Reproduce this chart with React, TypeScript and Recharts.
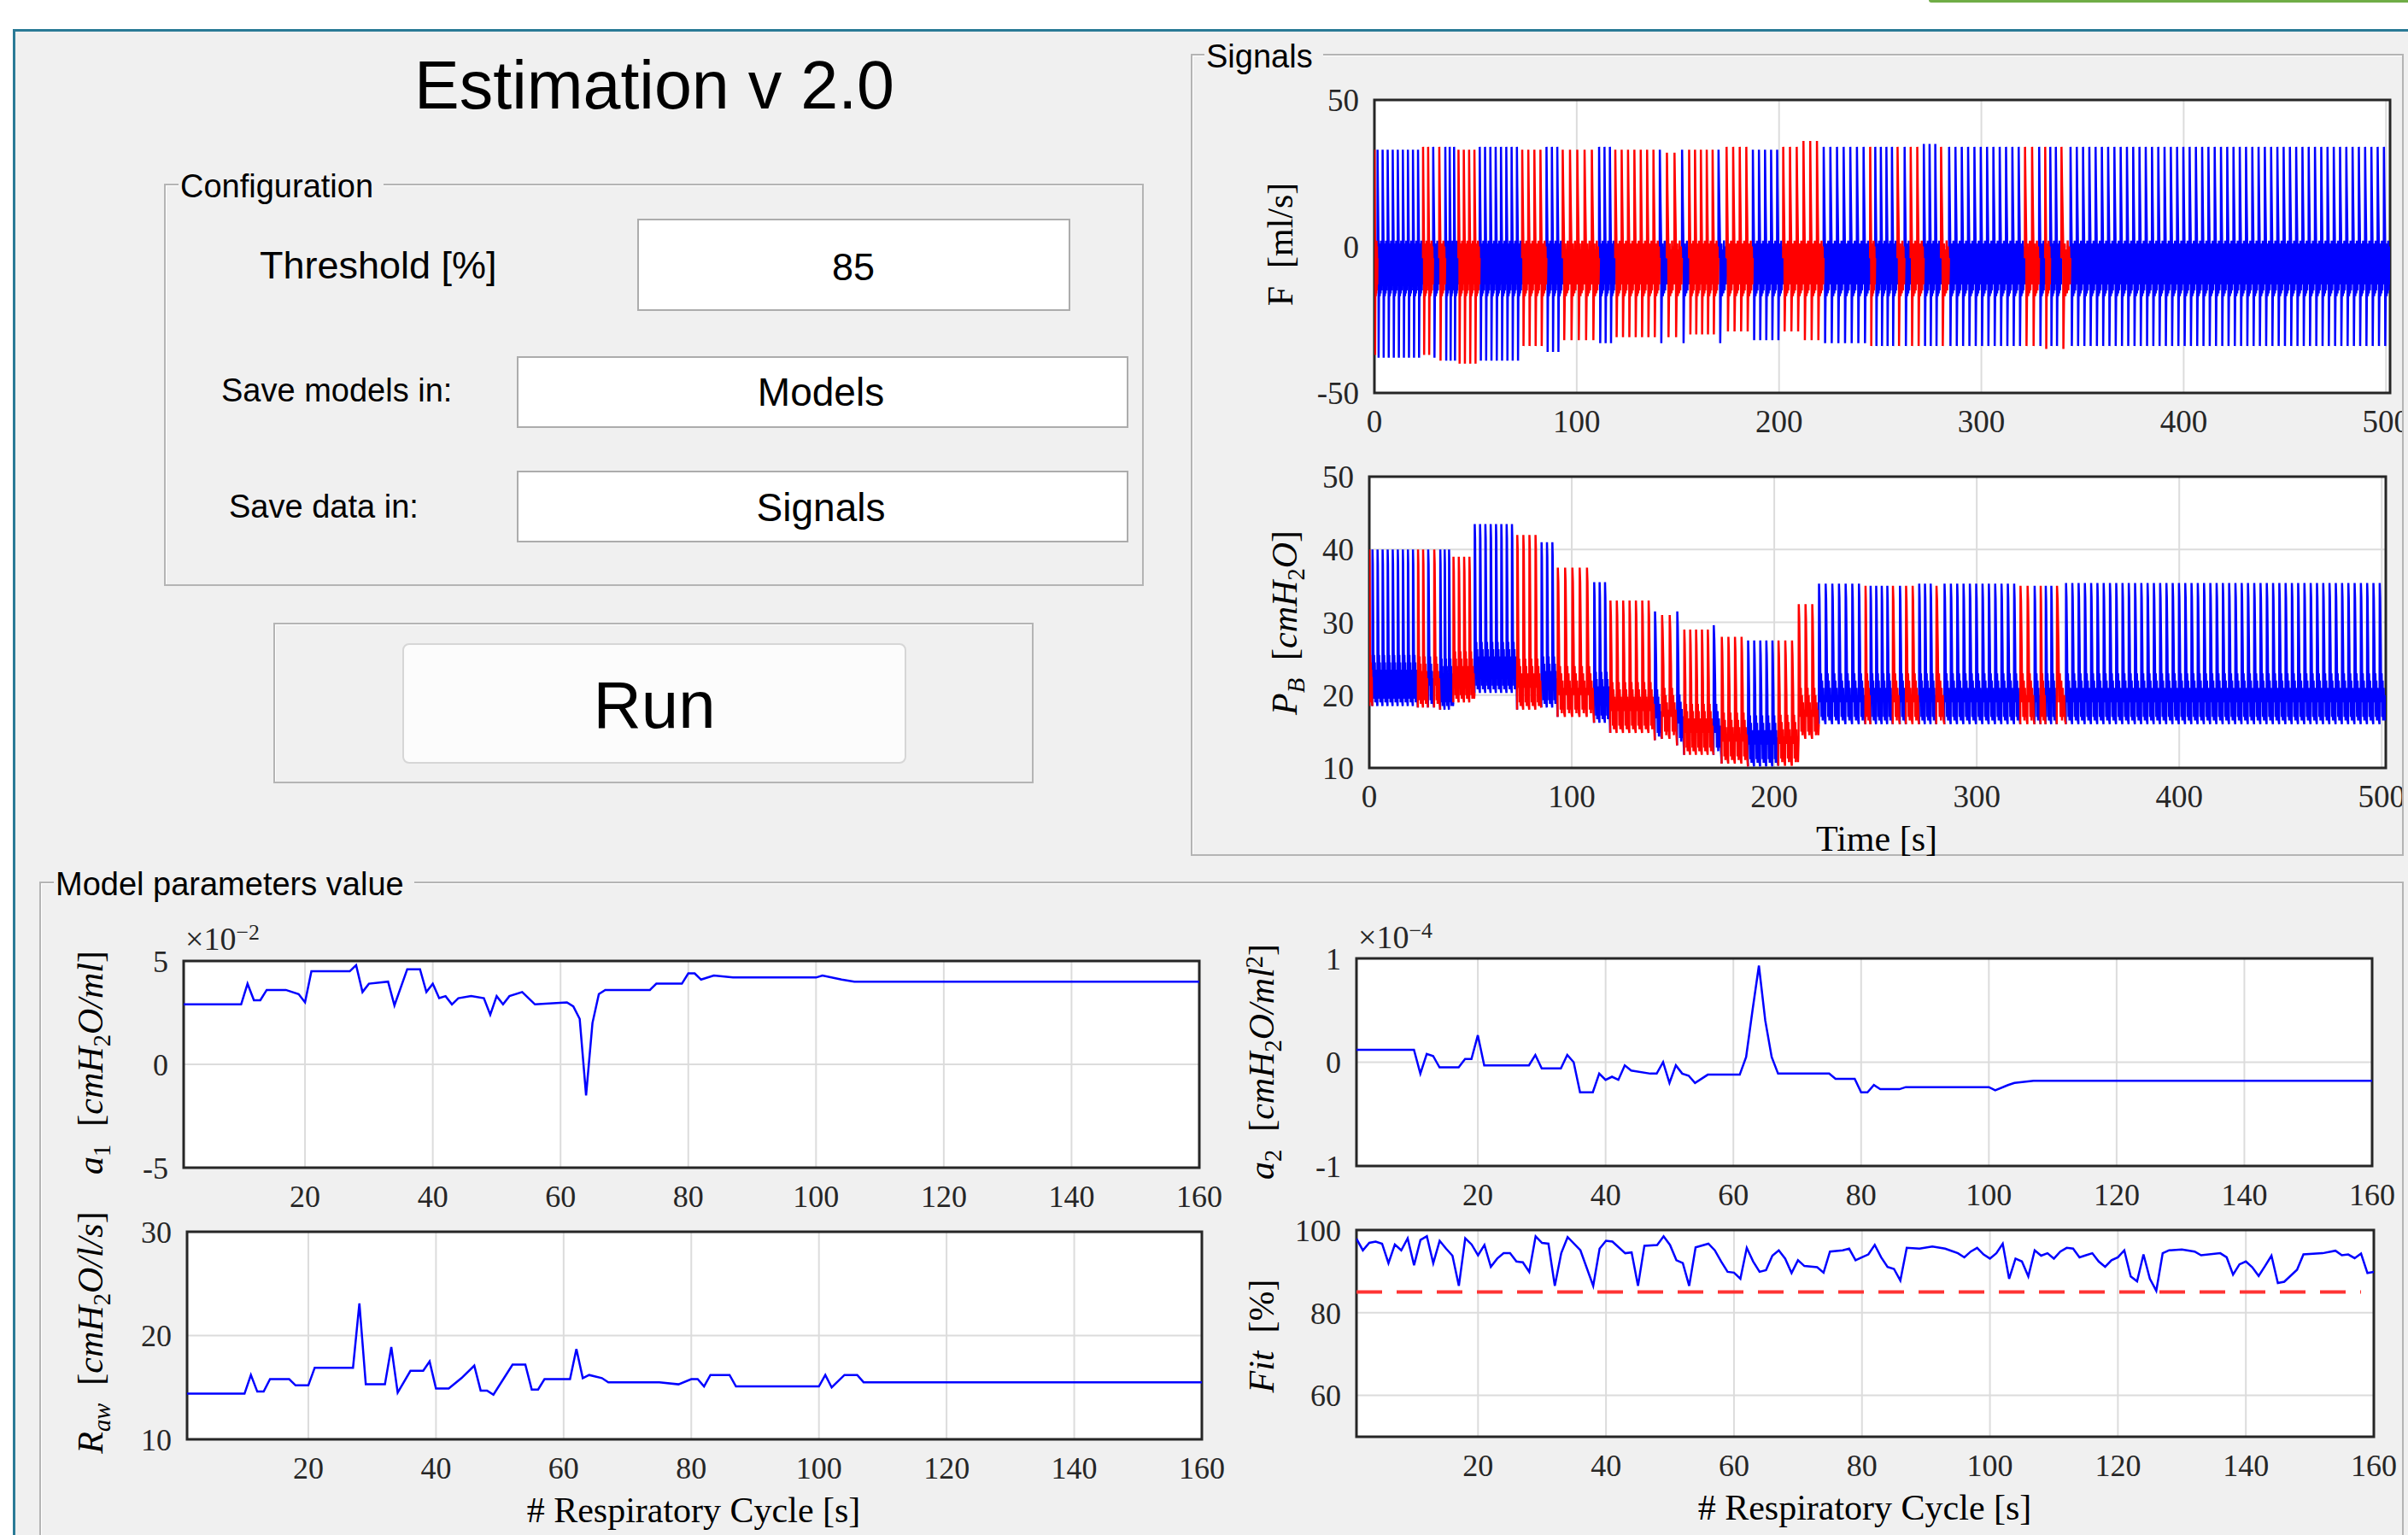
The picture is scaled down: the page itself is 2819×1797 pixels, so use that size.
import React from 'react';
import { CartesianGrid, Line, LineChart, ReferenceArea, ReferenceLine, XAxis, YAxis } from 'recharts';

const SANS = '"Liberation Sans", Arial, sans-serif';
const SERIF = '"Liberation Serif", "Times New Roman", serif';
const INK = '#262626';
const PANEL = '#f0f0f0';
const BLUE = '#0000ff';
const RED = '#ff0000';

// GUI values
const THRESHOLD = 85;
const MODELS_DIR = 'Models';
const SIGNALS_DIR = 'Signals';

const segBounds = [0, 1.5, 24, 29, 32, 35, 41.5, 52, 73, 85, 93, 111, 119, 141, 144.5, 152, 155.5, 170, 174, 187, 202, 212, 222, 245, 247.5, 258.5, 262, 265, 271.5, 280, 284, 321.5, 328.5, 331.5, 334, 339.5, 344, 502];
const segRed = [1, 0, 1, 0, 1, 0, 1, 0, 1, 0, 1, 0, 1, 0, 1, 0, 1, 0, 1, 0, 1, 1, 0, 1, 0, 1, 0, 1, 0, 1, 0, 1, 0, 1, 0, 1, 0];
const segBreaths = [1, 9, 2, 1, 1, 3, 4, 8, 4, 3, 5, 3, 7, 1, 2, 1, 5, 1, 4, 5, 3, 3, 7, 1, 4, 1, 1, 2, 3, 1, 12, 2, 1, 1, 2, 1, 51];
// flow F [ml/s]
const flowPeak = [33, 33, 34, 34, 34, 34, 33, 34, 33, 34, 33, 34, 33, 33, 32, 33, 33, 33, 34, 33, 34, 36, 34, 34, 34, 34, 34, 34, 35, 34, 34, 34, 34, 34, 34, 34, 34];
const flowTrough = [-37, -38, -37, -38, -39, -39, -40, -39, -34, -36, -32, -33, -31, -33, -31, -33, -30, -33, -29, -32, -29, -32, -33, -34, -34, -34, -34, -34, -34, -34, -34, -34, -34, -35, -34, -35, -34];
// pressure P_B [cmH2O]
const presPeak = [40, 40, 40, 40, 40, 40, 39, 43.5, 42, 41, 37.5, 35.5, 33, 31.5, 31, 31.5, 29, 29.6, 28, 27.5, 27.5, 32.5, 35.3, 35, 35, 35, 35, 35, 35.3, 35, 35.3, 35, 35, 35, 35, 35, 35.4];
const presBase = [18.5, 18.5, 18.3, 18.3, 18.3, 18, 19, 20.3, 18, 18.3, 17, 16.2, 14.8, 13.8, 14, 13.1, 11.8, 11.8, 10.6, 10.2, 10.3, 14, 16, 16, 16, 16, 16, 16, 16, 16, 16, 16, 16, 16, 16, 16, 16];

// Model parameters (per respiratory cycle)
const a1Cycles = [1, 10, 11, 12, 13, 14, 17, 19, 20, 21, 27, 28, 29, 30, 33, 34, 36, 38, 39, 40, 41, 42, 43, 44, 46, 48, 49, 50, 51, 52, 54, 55, 56, 61, 62, 63, 64, 65, 66, 67, 74, 75, 79, 80, 81, 82, 84, 87, 100, 101, 104, 106, 160];
const a1Values = [2.9, 2.9, 3.9, 3.1, 3.1, 3.6, 3.6, 3.4, 3.0, 4.5, 4.5, 4.8, 3.5, 3.9, 4.0, 2.85, 4.6, 4.6, 3.5, 3.9, 3.2, 3.3, 2.9, 3.2, 3.3, 3.2, 2.4, 3.3, 2.9, 3.3, 3.5, 3.2, 2.9, 3.0, 2.8, 2.2, -1.5, 2.0, 3.4, 3.6, 3.6, 3.9, 3.9, 4.4, 4.4, 4.1, 4.3, 4.2, 4.2, 4.3, 4.1, 4.0, 4.0]; // x1e-2

const a2Cycles = [1, 10, 11, 12, 13, 14, 17, 18, 19, 20, 21, 28, 29, 30, 33, 34, 35, 36, 38, 39, 40, 41, 42, 43, 44, 47, 48, 49, 50, 51, 52, 53, 54, 56, 61, 62, 63, 64, 65, 66, 67, 75, 76, 79, 80, 81, 82, 83, 86, 87, 100, 101, 103, 104, 107, 160];
const a2Values = [0.12, 0.12, -0.11, 0.08, 0.06, -0.05, -0.05, 0.03, 0.03, 0.26, -0.03, -0.03, 0.07, -0.06, -0.06, 0.07, 0, -0.29, -0.29, -0.11, -0.17, -0.14, -0.17, -0.03, -0.08, -0.11, -0.11, 0, -0.2, -0.03, -0.11, -0.13, -0.2, -0.12, -0.12, 0.05, 0.5, 0.93, 0.4, 0.05, -0.11, -0.11, -0.16, -0.16, -0.29, -0.29, -0.22, -0.26, -0.26, -0.24, -0.24, -0.27, -0.22, -0.2, -0.18, -0.18]; // x1e-4

const rawCycles = [1, 10, 11, 12, 13, 14, 17, 18, 20, 21, 27, 28, 29, 32, 33, 34, 36, 38, 39, 40, 42, 44, 46, 47, 48, 49, 52, 54, 55, 56, 57, 61, 62, 63, 64, 66, 67, 75, 78, 80, 81, 82, 83, 86, 87, 100, 101, 102, 104, 106, 107, 160];
const rawValues = [14.4, 14.4, 16.2, 14.6, 14.6, 15.8, 15.8, 15.2, 15.2, 16.9, 16.9, 23.1, 15.3, 15.3, 18.9, 14.5, 16.6, 16.6, 17.5, 14.9, 14.9, 15.9, 17.1, 14.7, 14.7, 14.3, 17.2, 17.2, 14.8, 14.8, 15.8, 15.8, 18.7, 15.9, 16.2, 15.9, 15.5, 15.5, 15.3, 15.8, 15.8, 15.1, 16.2, 16.2, 15.1, 15.1, 16.2, 15.0, 16.2, 16.2, 15.5, 15.5];

const fitCycles = [1, 2, 3, 4, 5, 6, 7, 8, 9, 10, 11, 12, 13, 14, 15, 16, 17, 18, 19, 20, 21, 22, 23, 24, 25, 26, 27, 28, 29, 30, 31, 32, 33, 34, 36, 38, 39, 40, 41, 43, 44, 45, 46, 48, 49, 50, 51, 52, 53, 54, 56, 57, 58, 59, 60, 61, 62, 63, 64, 65, 66, 67, 68, 69, 70, 71, 73, 74, 75, 77, 78, 79, 80, 81, 82, 83, 84, 85, 86, 87, 89, 91, 93, 95, 96, 97, 98, 99, 100, 101, 102, 103, 104, 105, 106, 107, 108, 109, 110, 111, 112, 113, 114, 115, 116, 117, 118, 119, 120, 121, 122, 123, 124, 125, 126, 127, 128, 130, 132, 133, 136, 137, 138, 139, 140, 141, 142, 143, 144, 145, 146, 148, 149, 152, 154, 155, 156, 157, 158, 159, 160];
const fitValues = [97.9, 95.1, 96.9, 97.2, 96.7, 92, 96.5, 95.1, 98, 91.5, 97.6, 98.5, 92, 97.4, 95.5, 93.8, 86.5, 98, 96.5, 93.9, 96.4, 91.1, 93.1, 94.4, 94.4, 92.4, 92.2, 89.9, 98.5, 96.9, 96.7, 86.5, 94.4, 98.3, 95.1, 86.5, 95.5, 97.4, 97.2, 94.4, 94.6, 86.5, 96.2, 96.4, 98.5, 96.4, 92.7, 92, 86.5, 95.8, 96.7, 95.1, 92.4, 89.9, 89.7, 88.2, 95.7, 92.4, 89.9, 90.3, 93.8, 95.1, 93.1, 89.6, 92.7, 91.3, 91, 89.7, 94.8, 95.1, 95.5, 92.7, 93.4, 94.1, 96.4, 93.4, 91.1, 90.6, 87.8, 95.7, 95.5, 96, 95.5, 94.4, 93.4, 94.8, 95.7, 94.1, 93.1, 94.4, 96.7, 88.2, 93.1, 92.4, 88.8, 95.1, 93.8, 94.4, 93.1, 94.8, 95.7, 95.5, 93.4, 93.9, 94.4, 92.4, 91.1, 92.7, 93.4, 95.1, 88.8, 87.6, 94.1, 88.2, 85.3, 94.4, 95.1, 95.3, 94.8, 93.9, 94.4, 93.4, 89.2, 91.7, 92.4, 91, 88.9, 91.3, 93.8, 87.2, 87.5, 90.4, 94.1, 94.4, 95, 93.9, 94.1, 93.2, 94.3, 89.6, 89.9];

const timeTicks = [0, 100, 200, 300, 400, 500];
const cycleTicks = [20, 40, 60, 80, 100, 120, 140, 160];

type Row = Record<string, number | null>;
type Pt = [number, number];

// one breath: [phase within breath, value]
const flowShape = (peak: number, trough: number): Pt[] => [
  [0, -4], [0.02, peak], [0.09, peak * 0.6], [0.2, 2], [0.23, trough], [0.3, -18],
  [0.38, 1], [0.46, -17], [0.54, -1], [0.62, -16], [0.7, 2], [0.78, -15], [0.86, 0], [0.94, -13],
];
const presShape = (peak: number, base: number): Pt[] => [
  [0, base], [0.03, peak], [0.1, peak - 2], [0.2, base + 10], [0.26, base + 3], [0.34, base + 7],
  [0.42, base + 1], [0.5, base + 6], [0.58, base + 0.5], [0.66, base + 5], [0.74, base + 1], [0.82, base + 4], [0.92, base + 0.5],
];

function buildTrace(shape: (a: number, b: number) => Pt[], hi: number[], lo: number[]): Row[] {
  const rows: Row[] = [];
  for (let s = 0; s < segRed.length; s++) {
    const t0 = segBounds[s];
    const period = (segBounds[s + 1] - t0) / segBreaths[s];
    const key = segRed[s] ? 'red' : 'blue';
    const other = segRed[s] ? 'blue' : 'red';
    for (let b = 0; b < segBreaths[s]; b++) {
      shape(hi[s], lo[s]).forEach(([phase, v], i) => {
        const row: Row = { t: t0 + (b + phase) * period, blue: null, red: null };
        row[key] = v;
        if (s > 0 && b === 0 && i === 0 && segRed[s - 1] !== segRed[s]) row[other] = v;
        rows.push(row);
      });
    }
  }
  return rows;
}

const zip = (xs: number[], ys: number[]): Row[] => xs.map((c, i) => ({ c, v: ys[i] }));

const flowRows = buildTrace(flowShape, flowPeak, flowTrough);
const presRows = buildTrace(presShape, presPeak, presBase);
const a1Rows = zip(a1Cycles, a1Values);
const a2Rows = zip(a2Cycles, a2Values);
const rawRows = zip(rawCycles, rawValues);
const fitRows = zip(fitCycles, fitValues);

const PAD_L = 100;
const PAD_R = 40;
const PAD_T = 30;
const PAD_B = 60;

interface PlotProps {
  x: number;
  y: number;
  w: number;
  h: number;
  ox?: number;
  oy?: number;
  data: Row[];
  xKey: string;
  xDomain: [number, number];
  xTicks: number[];
  yDomain: [number, number];
  yTicks: number[];
  fontSize: number;
  series: { key: string; color: string; width: number }[];
  children?: React.ReactNode;
}

function Plot({ x, y, w, h, ox = 0, oy = 0, data, xKey, xDomain, xTicks, yDomain, yTicks, fontSize, series, children }: PlotProps) {
  const tick = { fontFamily: SERIF, fontSize, fill: INK };
  return (
    <div style={{ position: 'absolute', left: x - PAD_L - ox, top: y - PAD_T - oy }}>
      <LineChart
        width={w + PAD_L + PAD_R}
        height={h + PAD_T + PAD_B}
        data={data}
        margin={{ top: PAD_T, right: PAD_R, bottom: 0, left: 0 }}
      >
        <CartesianGrid stroke="#dcdcdc" strokeWidth={2} fill="#ffffff" />
        <XAxis
          dataKey={xKey}
          type="number"
          domain={xDomain}
          ticks={xTicks}
          interval={0}
          allowDataOverflow
          height={PAD_B}
          axisLine={false}
          tickLine={false}
          tickSize={0}
          tickMargin={20}
          tick={tick}
        />
        <YAxis
          type="number"
          domain={yDomain}
          ticks={yTicks}
          interval={0}
          allowDataOverflow
          width={PAD_L}
          axisLine={false}
          tickLine={false}
          tickSize={0}
          tickMargin={18}
          tick={tick}
        />
        {series.map((s) => (
          <Line
            key={s.key}
            dataKey={s.key}
            type="linear"
            stroke={s.color}
            strokeWidth={s.width}
            dot={false}
            activeDot={false}
            connectNulls={false}
            isAnimationActive={false}
          />
        ))}
        {children}
        <ReferenceArea
          x1={xDomain[0]}
          x2={xDomain[1]}
          y1={yDomain[0]}
          y2={yDomain[1]}
          fill="none"
          stroke={INK}
          strokeWidth={3}
          ifOverflow="visible"
        />
      </LineChart>
    </div>
  );
}

interface TxtProps {
  x: number;
  y: number;
  size: number;
  anchor?: 'start' | 'middle' | 'end';
  family?: string;
  rotate?: boolean;
  style?: React.CSSProperties;
  children: React.ReactNode;
}

function Txt({ x, y, size, anchor = 'start', family = SANS, rotate = false, style, children }: TxtProps) {
  const tx = rotate || anchor === 'middle' ? '-50%' : anchor === 'end' ? '-100%' : '0';
  return (
    <div
      style={{
        position: 'absolute',
        left: x,
        top: y,
        transform: `translate(${tx}, -50%)${rotate ? ' rotate(-90deg)' : ''}`,
        fontSize: size,
        lineHeight: 1,
        fontFamily: family,
        whiteSpace: 'nowrap',
        color: '#000',
        ...style,
      }}
    >
      {children}
    </div>
  );
}

const Sub = ({ children }: { children: React.ReactNode }) => (
  <span style={{ fontSize: '0.68em', position: 'relative', top: '0.3em' }}>{children}</span>
);
const Sup = ({ children }: { children: React.ReactNode }) => (
  <span style={{ fontSize: '0.68em', position: 'relative', top: '-0.45em' }}>{children}</span>
);

function Box({ left, top, width, height, style, children }: { left: number; top: number; width: number; height: number; style?: React.CSSProperties; children?: React.ReactNode }) {
  return (
    <div style={{ position: 'absolute', left, top, width, height, boxSizing: 'border-box', ...style }}>{children}</div>
  );
}

function Group({ left, top, width, height, title, titleLeft }: { left: number; top: number; width: number; height: number; title?: string; titleLeft?: number }) {
  return (
    <>
      <Box left={left} top={top} width={width} height={height} style={{ border: '2px solid #b4b4b4', boxShadow: 'inset 1px 1px 0 #ffffff' }} />
      {title && (
        <Txt x={titleLeft ?? left + 18} y={top + 3} size={38} style={{ background: PANEL, padding: '0 12px 0 2px' }}>
          {title}
        </Txt>
      )}
    </>
  );
}

const inputBox: React.CSSProperties = { background: '#ffffff', border: '2px solid #acacac' };
const mathTxt = { family: SERIF, size: 42 } as const;

export default function App() {
  return (
    <div style={{ position: 'absolute', left: 0, top: 0, width: 2819, height: 1797, overflow: 'hidden', background: '#ffffff', fontFamily: SANS }}>
      <Box left={2258} top={0} width={561} height={3} style={{ background: '#70ad47', borderBottomLeftRadius: 3 }} />
      <Box left={15} top={34} width={2804} height={1763} style={{ background: PANEL, borderTop: '3px solid #2a7a96', borderLeft: '3px solid #2a7a96' }} />

      {/* left control area */}
      <Txt x={766} y={99} size={79} anchor="middle">Estimation v 2.0</Txt>
      <Group left={192} top={215} width={1147} height={471} title="Configuration" titleLeft={209} />
      <Txt x={304} y={310} size={45}>Threshold [%]</Txt>
      <Box left={746} top={256} width={507} height={108} style={inputBox} />
      <Txt x={999} y={312} size={45} anchor="middle">{THRESHOLD}</Txt>
      <Txt x={259} y={457} size={38}>Save models in:</Txt>
      <Box left={605} top={417} width={716} height={84} style={inputBox} />
      <Txt x={961} y={459} size={46} anchor="middle">{MODELS_DIR}</Txt>
      <Txt x={268} y={593} size={38}>Save data in:</Txt>
      <Box left={605} top={551} width={716} height={84} style={inputBox} />
      <Txt x={961} y={594} size={46} anchor="middle">{SIGNALS_DIR}</Txt>
      <Group left={320} top={729} width={890} height={188} />
      <Box left={471} top={753} width={590} height={141} style={{ background: '#fcfcfc', border: '2px solid #d6d6d6', borderRadius: 8 }} />
      <Txt x={766} y={825} size={78} anchor="middle">Run</Txt>

      {/* Signals */}
      <Group left={1394} top={63} width={1420} height={939} title="Signals" titleLeft={1410} />
      <div style={{ position: 'absolute', left: 1396, top: 70, width: 1416, height: 930, overflow: 'hidden' }}>
        <Plot
          x={1609} y={117} w={1189} h={343} ox={1396} oy={70}
          data={flowRows} xKey="t" xDomain={[0, 502]} xTicks={timeTicks}
          yDomain={[-50, 50]} yTicks={[-50, 0, 50]} fontSize={37}
          series={[{ key: 'blue', color: BLUE, width: 2.5 }, { key: 'red', color: RED, width: 2.5 }]}
        />
        <Plot
          x={1603} y={558} w={1190} h={341} ox={1396} oy={70}
          data={presRows} xKey="t" xDomain={[0, 502]} xTicks={timeTicks}
          yDomain={[10, 50]} yTicks={[10, 20, 30, 40, 50]} fontSize={37}
          series={[{ key: 'blue', color: BLUE, width: 2.5 }, { key: 'red', color: RED, width: 2.5 }]}
        />
      </div>
      <Txt x={1499} y={286} rotate {...mathTxt}>F&nbsp;&nbsp;[ml/s]</Txt>
      <Txt x={1504} y={729} rotate {...mathTxt}>
        <i>P</i><Sub><i>B</i></Sub>&nbsp;&nbsp;[<i>cmH</i><Sub>2</Sub><i>O</i>]
      </Txt>
      <Txt x={2197} y={982} anchor="middle" {...mathTxt}>Time&nbsp;[s]</Txt>

      {/* Model parameters value */}
      <Group left={46} top={1032} width={2768} height={800} title="Model parameters value" titleLeft={63} />
      <Plot
        x={215} y={1125} w={1189} h={242}
        data={a1Rows} xKey="c" xDomain={[1, 160]} xTicks={cycleTicks}
        yDomain={[-5, 5]} yTicks={[-5, 0, 5]} fontSize={36}
        series={[{ key: 'v', color: BLUE, width: 2.5 }]}
      />
      <Plot
        x={219} y={1442} w={1188} h={243}
        data={rawRows} xKey="c" xDomain={[1, 160]} xTicks={cycleTicks}
        yDomain={[10, 30]} yTicks={[10, 20, 30]} fontSize={36}
        series={[{ key: 'v', color: BLUE, width: 2.5 }]}
      />
      <Plot
        x={1588} y={1122} w={1189} h={243}
        data={a2Rows} xKey="c" xDomain={[1, 160]} xTicks={cycleTicks}
        yDomain={[-1, 1]} yTicks={[-1, 0, 1]} fontSize={36}
        series={[{ key: 'v', color: BLUE, width: 2.5 }]}
      />
      <Plot
        x={1588} y={1440} w={1191} h={242}
        data={fitRows} xKey="c" xDomain={[1, 160]} xTicks={cycleTicks}
        yDomain={[50, 100]} yTicks={[60, 80, 100]} fontSize={36}
        series={[{ key: 'v', color: BLUE, width: 2.5 }]}
      >
        <ReferenceLine
          segment={[{ x: 1, y: THRESHOLD }, { x: 158, y: THRESHOLD }]}
          stroke="#ff3333"
          strokeWidth={4}
          strokeDasharray="30 17"
        />
      </Plot>

      <Txt x={217} y={1099} size={38} family={SERIF} style={{ color: INK }}>×10<Sup>−2</Sup></Txt>
      <Txt x={1590} y={1097} size={38} family={SERIF} style={{ color: INK }}>×10<Sup>−4</Sup></Txt>

      <Txt x={106} y={1244} rotate {...mathTxt}>
        <i>a</i><Sub>1</Sub>&nbsp;&nbsp;[<i>cmH</i><Sub>2</Sub><i>O/ml</i>]
      </Txt>
      <Txt x={106} y={1560} rotate {...mathTxt}>
        <i>R</i><Sub><i>aw</i></Sub>&nbsp;&nbsp;[<i>cmH</i><Sub>2</Sub><i>O/l/s</i>]
      </Txt>
      <Txt x={1477} y={1243} rotate {...mathTxt}>
        <i>a</i><Sub>2</Sub>&nbsp;&nbsp;[<i>cmH</i><Sub>2</Sub><i>O/ml</i><Sup>2</Sup>]
      </Txt>
      <Txt x={1477} y={1564} rotate {...mathTxt}>
        <i>Fit</i>&nbsp;&nbsp;[%]
      </Txt>
      <Txt x={812} y={1768} anchor="middle" {...mathTxt}># Respiratory Cycle [s]</Txt>
      <Txt x={2183} y={1765} anchor="middle" {...mathTxt}># Respiratory Cycle [s]</Txt>
    </div>
  );
}
